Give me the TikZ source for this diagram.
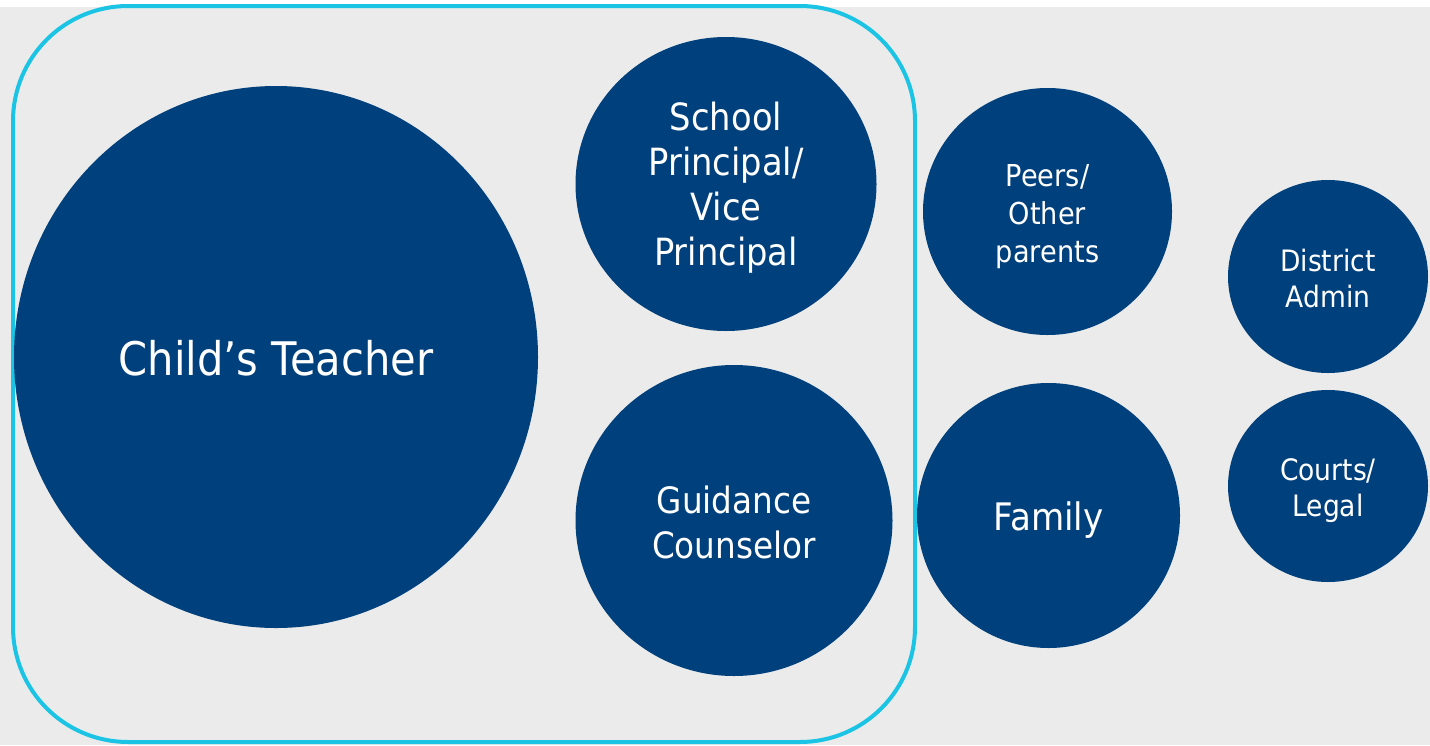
\documentclass[tikz,border=0pt]{standalone}
\usepackage{fontspec}
\setmainfont{DejaVu Sans}[FakeStretch=0.9]
\usetikzlibrary{shapes.geometric}
\definecolor{navy}{RGB}{0,64,124}
\definecolor{cyanline}{RGB}{27,196,228}
\definecolor{bggray}{RGB}{235,235,235}
\tikzset{
  bub/.style={ellipse, fill=navy, draw=none, inner sep=0pt},
  lbl/.style={inner sep=0pt, text=white, align=center},
  framebox/.style={rectangle, draw=cyanline, line width=4pt, rounded corners=115pt, inner sep=0pt},
}
\newcommand{\fs}[2]{\fontsize{#1}{#2}\selectfont}
\begin{document}
\begin{tikzpicture}[x=1pt,y=1pt]
\useasboundingbox (0,0) rectangle (1430,-745);
\fill[bggray] (0,-7) rectangle (1430,-745);
\node[framebox, minimum width=902pt, minimum height=736pt] (school) at (464,-374) {};
\node[bub, minimum width=524pt, minimum height=542pt] (teacher) at (276,-357) {};
\node[bub, minimum width=301pt, minimum height=294pt] (principal) at (726,-184) {};
\node[bub, minimum width=317pt, minimum height=311pt] (guidance) at (734,-520.5) {};
\node[bub, minimum width=249pt, minimum height=247pt] (peers) at (1047.5,-211.5) {};
\node[bub, minimum width=263pt, minimum height=265pt] (family) at (1048.5,-515.5) {};
\node[bub, minimum width=200pt, minimum height=193pt] (district) at (1328,-276.5) {};
\node[bub, minimum width=200pt, minimum height=192pt] (courts) at (1328,-486) {};
\node[lbl, font=\fs{46.3}{55}] (teacherT) at ([yshift=-1.5pt]teacher.center) {Child’s Teacher};
\node[lbl, font=\fs{37.5}{45}] (principalT) at ([yshift=-4pt]principal.center) {School\\Principal/\\Vice\\Principal};
\node[lbl, font=\fs{36.3}{45}] (guidanceT) at ([yshift=-2pt]guidance.center) {Guidance\\Counselor};
\node[lbl, font=\fs{30.2}{38}] (peersT) at ([yshift=-5pt]peers.center) {Peers/\\Other\\parents};
\node[lbl, font=\fs{37.9}{45}] (familyT) at ([yshift=-5pt]family.center) {Family};
\node[lbl, font=\fs{29.5}{36}] (districtT) at ([yshift=-1.5pt]district.center) {District\\Admin};
\node[lbl, font=\fs{29.5}{36}] (courtsT) at ([yshift=-5pt]courts.center) {Courts/\\Legal};
\end{tikzpicture}
\end{document}
